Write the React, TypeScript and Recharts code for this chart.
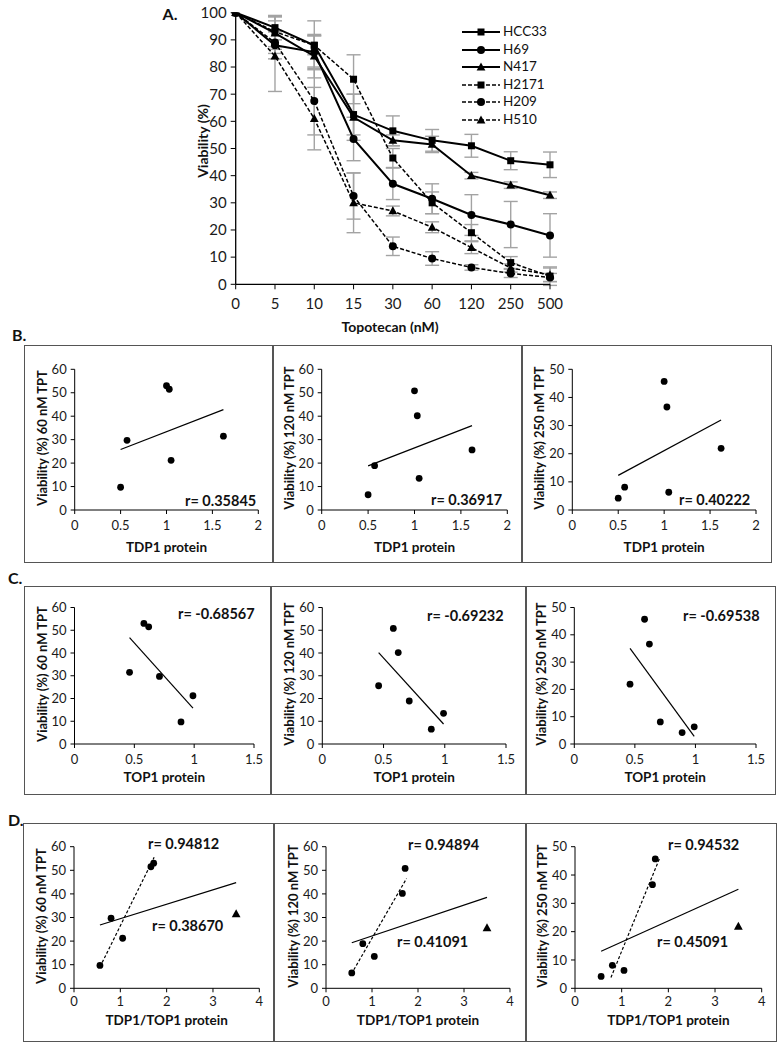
import React from "react";
import {
  LineChart,
  Line,
  XAxis,
  YAxis,
  ErrorBar,
  ScatterChart,
  Scatter,
} from "recharts";

const FONT = "Lato, 'DejaVu Sans', sans-serif";
const INK = "#000";
const FRAME = "#555";

// ---- panel A: viability vs topotecan dose ----
const doses = ["0", "5", "10", "15", "30", "60", "120", "250", "500"];
const hcc33 = [100, 94.5, 88, 62.5, 56.5, 53, 51, 45.5, 44];
const hcc33Err = [0, 4.5, 9, 7.5, 5.5, 4, 4.2, 3.3, 4.7];
const h69 = [100, 88, 85.5, 53.5, 37, 31.5, 25.5, 22, 18];
const h69Err = [0, 5, 6, 8, 5.8, 5.5, 7.5, 8.5, 8];
const n417 = [100, 92.5, 84, 61.5, 53, 51.5, 40, 36.5, 32.8];
const n417Err = [0, 6, 8, 8.5, 2, 3, 1.2, 1.2, 1.2];
const h2171 = [100, 93, 88, 75.5, 46.5, 30, 19, 8, 3];
const h2171Err = [0, 5.5, 3.5, 9, 3.5, 4, 3, 2.2, 3.4];
const h209 = [100, 89, 67.5, 32.5, 14, 9.5, 6.2, 4, 2.5];
const h209Err = [0, 4, 12.5, 8.5, 3.4, 2.5, 1, 1.5, 1.5];
const h510 = [100, 84, 61, 30, 27, 21, 13.5, 6, 3.5];
const h510Err = [0, 13, 11.5, 11, 1.8, 2, 2.2, 1.5, 2.5];

const doseSeries = [
  { key: "hcc33", name: "HCC33", values: hcc33, err: hcc33Err, dashed: false, mark: "square" },
  { key: "h69", name: "H69", values: h69, err: h69Err, dashed: false, mark: "circle" },
  { key: "n417", name: "N417", values: n417, err: n417Err, dashed: false, mark: "triangle" },
  { key: "h2171", name: "H2171", values: h2171, err: h2171Err, dashed: true, mark: "square" },
  { key: "h209", name: "H209", values: h209, err: h209Err, dashed: true, mark: "circle" },
  { key: "h510", name: "H510", values: h510, err: h510Err, dashed: true, mark: "triangle" },
];

const doseTable = doses.map((dose, i) => {
  const row: Record<string, any> = { dose };
  doseSeries.forEach((s) => {
    row[s.key] = s.values[i];
    row[s.key + "Err"] = s.err[i];
  });
  return row;
});

// ---- panels B-D: order HCC33, H69, N417, H2171, H209, H510 ----
const tdp1 = [1.0, 1.62, 1.03, 0.57, 0.5, 1.05];
const top1 = [0.58, 0.46, 0.62, 0.71, 0.89, 0.99];
const tdp1top1 = [1.72, 3.5, 1.66, 0.8, 0.56, 1.05];
const via60 = [53, 31.5, 51.5, 29.7, 9.7, 21.2];
const via120 = [50.8, 25.6, 40.2, 18.9, 6.5, 13.5];
const via250 = [45.7, 21.9, 36.6, 8.1, 4.2, 6.3];

// fitted lines as [x, y] end points
const fitB60 = [[0.5, 25.8], [1.62, 42.8]];
const fitB120 = [[0.5, 18.8], [1.62, 36]];
const fitB250 = [[0.5, 12.3], [1.62, 32]];
const fitC60 = [[0.46, 46.8], [0.99, 15.8]];
const fitC120 = [[0.46, 40.2], [0.99, 8.8]];
const fitC250 = [[0.46, 35], [0.99, 2.8]];
const fitD60 = [[0.56, 26.8], [3.5, 44.8]];
const fitD60Dash = [[0.56, 9], [1.73, 55.5]];
const fitD120 = [[0.56, 19.3], [3.5, 38.5]];
const fitD120Dash = [[0.55, 6], [1.75, 46.5]];
const fitD250 = [[0.56, 13.1], [3.5, 35]];
const fitD250Dash = [[0.77, 3.8], [1.82, 46.2]];

const toPts = (xs: number[], ys: number[]) => xs.map((x, i) => ({ x, y: ys[i] }));
const toFit = (f: number[][]) => f.map(([x, y]) => ({ x, y }));

function Marker({ mark, cx, cy }: { mark: string; cx?: number; cy?: number }) {
  if (cx == null || cy == null) return <g />;
  if (mark === "square")
    return <rect x={cx - 3.5} y={cy - 3.5} width={7} height={7} fill={INK} />;
  if (mark === "triangle")
    return (
      <polygon
        points={`${cx},${cy - 4.6} ${cx + 4.4},${cy + 3.4} ${cx - 4.4},${cy + 3.4}`}
        fill={INK}
      />
    );
  return <circle cx={cx} cy={cy} r={4} fill={INK} />;
}

function Txt({
  x,
  y,
  size = 13,
  bold = false,
  anchor = "middle",
  rotate = false,
  children,
}: {
  x: number;
  y: number;
  size?: number;
  bold?: boolean;
  anchor?: "start" | "middle" | "end";
  rotate?: boolean;
  children: React.ReactNode;
}) {
  const tx = anchor === "middle" ? "-50%" : anchor === "end" ? "-100%" : "0";
  return (
    <div
      style={{
        position: "absolute",
        left: x,
        top: y,
        transform: `translate(${tx},-50%)${rotate ? " rotate(-90deg)" : ""}`,
        fontFamily: FONT,
        fontSize: size,
        fontWeight: bold ? 700 : 400,
        color: "#111",
        whiteSpace: "nowrap",
        lineHeight: 1,
      }}
    >
      {children}
    </div>
  );
}

const tickStyle = (size: number) => ({ fontSize: size, fill: "#1a1a1a", fontFamily: FONT });

function DoseChart() {
  return (
    <div style={{ position: "absolute", left: 0, top: 0 }}>
      <LineChart
        width={782}
        height={340}
        data={doseTable}
        margin={{ top: 12.7, right: 232, bottom: 25.7, left: 195.7 }}
      >
        <XAxis
          dataKey="dose"
          height={30}
          interval={0}
          tickSize={5}
          tickMargin={9}
          tick={tickStyle(15)}
          axisLine={{ stroke: INK, strokeWidth: 1.3 }}
          tickLine={{ stroke: INK }}
        />
        <YAxis
          width={40}
          domain={[0, 100]}
          ticks={[0, 10, 20, 30, 40, 50, 60, 70, 80, 90, 100]}
          allowDataOverflow
          interval={0}
          tickSize={5}
          tickMargin={4}
          tick={tickStyle(15)}
          axisLine={{ stroke: INK, strokeWidth: 1.3 }}
          tickLine={{ stroke: INK }}
        />
        {doseSeries.map((s) => (
          <Line
            key={s.key + "-err"}
            dataKey={s.key}
            stroke="none"
            dot={false}
            activeDot={false}
            legendType="none"
            isAnimationActive={false}
          >
            <ErrorBar dataKey={s.key + "Err"} width={7} stroke="#a3a3a3" strokeWidth={1.4} />
          </Line>
        ))}
        {doseSeries.map((s) => (
          <Line
            key={s.key}
            type="linear"
            dataKey={s.key}
            name={s.name}
            stroke={INK}
            strokeWidth={s.dashed ? 1.5 : 2}
            strokeDasharray={s.dashed ? "4 2" : undefined}
            dot={(p: any) => <Marker key={s.key + p.index} mark={s.mark} cx={p.cx} cy={p.cy} />}
            activeDot={false}
            isAnimationActive={false}
          />
        ))}
      </LineChart>
      <Txt x={170} y={14} size={16} bold>
        A.
      </Txt>
      <Txt x={203} y={141} size={14} bold rotate>
        Viability (%)
      </Txt>
      <Txt x={390} y={327} size={14} bold>
        Topotecan (nM)
      </Txt>
      {doseSeries.map((s, i) => {
        const cy = 32 + i * 17.5;
        return (
          <div key={s.key} style={{ position: "absolute", left: 461, top: cy - 6 }}>
            <svg width={40} height={12} style={{ display: "block" }}>
              <line
                x1={1}
                x2={39}
                y1={6}
                y2={6}
                stroke={INK}
                strokeWidth={s.dashed ? 1.5 : 2}
                strokeDasharray={s.dashed ? "4 2" : undefined}
              />
              <Marker mark={s.mark} cx={20} cy={6} />
            </svg>
            <Txt x={42} y={6} size={13.5} anchor="start">
              {s.name}
            </Txt>
          </div>
        );
      })}
    </div>
  );
}

type PanelDef = {
  box: [number, number, number, number]; // left, top, right, bottom
  plot: [number, number, number, number]; // x0, yTop, x1, yBottom
  xMax: number;
  xTicks: number[];
  yMax: number;
  xs: number[];
  ys: number[];
  tri?: number;
  fit: number[][];
  fitDash?: number[][];
  xTitle: string;
  titleY: number;
  tickGap: number;
  yTitle: string;
  notes: { text: string; x: number; y: number }[];
};

const YW = 30;
const XH = 24;

function Panel({ d }: { d: PanelDef }) {
  const [bl, bt, br, bb] = d.box;
  const [px0, pt, px1, pb] = d.plot;
  const yTicks = Array.from({ length: d.yMax / 10 + 1 }, (_, i) => i * 10);
  const pts = toPts(d.xs, d.ys);
  const circles = pts.filter((_, i) => i !== d.tri);
  const tris = d.tri != null ? [pts[d.tri]] : [];
  return (
    <>
      <div
        style={{
          position: "absolute",
          left: bl,
          top: bt,
          width: br - bl,
          height: bb - bt,
          border: `1.5px solid ${FRAME}`,
          boxSizing: "border-box",
        }}
      />
      <div style={{ position: "absolute", left: bl, top: bt }}>
        <ScatterChart
          width={br - bl}
          height={bb - bt}
          margin={{ left: px0 - bl - YW, right: br - px1, top: pt - bt, bottom: bb - pb - XH }}
        >
          <XAxis
            type="number"
            dataKey="x"
            domain={[0, d.xMax]}
            ticks={d.xTicks}
            allowDataOverflow
            interval={0}
            height={XH}
            tickSize={4}
            tickMargin={d.tickGap}
            tick={tickStyle(13)}
            axisLine={{ stroke: INK }}
            tickLine={{ stroke: INK }}
          />
          <YAxis
            type="number"
            dataKey="y"
            domain={[0, d.yMax]}
            ticks={yTicks}
            allowDataOverflow
            interval={0}
            width={YW}
            tickSize={4}
            tickMargin={4}
            tick={tickStyle(13)}
            axisLine={{ stroke: INK }}
            tickLine={{ stroke: INK }}
          />
          <Scatter
            data={toFit(d.fit)}
            line={{ stroke: INK, strokeWidth: 1.2 }}
            shape={() => <g />}
            isAnimationActive={false}
          />
          {d.fitDash && (
            <Scatter
              data={toFit(d.fitDash)}
              line={{ stroke: INK, strokeWidth: 1.2, strokeDasharray: "3 2" }}
              shape={() => <g />}
              isAnimationActive={false}
            />
          )}
          <Scatter
            data={circles}
            shape={(p: any) => <circle cx={p.cx} cy={p.cy} r={3.4} fill={INK} />}
            isAnimationActive={false}
          />
          {tris.length > 0 && (
            <Scatter
              data={tris}
              shape={(p: any) => <Marker mark="triangle" cx={p.cx} cy={p.cy} />}
              isAnimationActive={false}
            />
          )}
        </ScatterChart>
      </div>
      <Txt x={px0 - 33} y={(pt + pb) / 2 - 2} size={13} bold rotate>
        {d.yTitle}
      </Txt>
      <Txt x={(px0 + px1) / 2} y={d.titleY} size={13.5} bold>
        {d.xTitle}
      </Txt>
      {d.notes.map((n) => (
        <Txt key={n.text} x={n.x} y={n.y} size={14.5} bold anchor="start">
          {n.text}
        </Txt>
      ))}
    </>
  );
}

const tdpTicks = [0, 0.5, 1, 1.5, 2];
const topTicks = [0, 0.5, 1, 1.5];
const ratioTicks = [0, 1, 2, 3, 4];

const panels: PanelDef[] = [
  // row B
  { box: [24, 345, 273, 563], plot: [74.7, 369.3, 258.3, 510], xMax: 2, xTicks: tdpTicks, yMax: 60, xs: tdp1, ys: via60, fit: fitB60, xTitle: "TDP1 protein", titleY: 548, tickGap: 7, yTitle: "Viability (%) 60 nM TPT", notes: [{ text: "r= 0.35845", x: 185, y: 501 }] },
  { box: [273, 345, 522, 563], plot: [321.7, 369.3, 507.3, 510], xMax: 2, xTicks: tdpTicks, yMax: 60, xs: tdp1, ys: via120, fit: fitB120, xTitle: "TDP1 protein", titleY: 548, tickGap: 7, yTitle: "Viability (%) 120 nM TPT", notes: [{ text: "r= 0.36917", x: 431, y: 500 }] },
  { box: [522, 345, 772, 563], plot: [572.3, 369.3, 756, 510], xMax: 2, xTicks: tdpTicks, yMax: 50, xs: tdp1, ys: via250, fit: fitB250, xTitle: "TDP1 protein", titleY: 548, tickGap: 7, yTitle: "Viability (%) 250 nM TPT", notes: [{ text: "r= 0.40222", x: 679, y: 500 }] },
  // row C
  { box: [24, 586, 271, 795], plot: [74.5, 607.5, 254, 744], xMax: 1.5, xTicks: topTicks, yMax: 60, xs: top1, ys: via60, fit: fitC60, xTitle: "TOP1 protein", titleY: 778, tickGap: 7, yTitle: "Viability (%) 60 nM TPT", notes: [{ text: "r= -0.68567", x: 178, y: 614 }] },
  { box: [271, 586, 526, 795], plot: [322.3, 607.5, 506, 744], xMax: 1.5, xTicks: topTicks, yMax: 60, xs: top1, ys: via120, fit: fitC120, xTitle: "TOP1 protein", titleY: 778, tickGap: 7, yTitle: "Viability (%) 120 nM TPT", notes: [{ text: "r= -0.69232", x: 427, y: 616 }] },
  { box: [526, 586, 776, 795], plot: [574.3, 607.5, 756, 744], xMax: 1.5, xTicks: topTicks, yMax: 50, xs: top1, ys: via250, fit: fitC250, xTitle: "TOP1 protein", titleY: 778, tickGap: 7, yTitle: "Viability (%) 250 nM TPT", notes: [{ text: "r= -0.69538", x: 683, y: 616 }] },
  // row D
  { box: [23, 823, 274, 1042], plot: [74, 846.7, 259.3, 988.3], xMax: 4, xTicks: ratioTicks, yMax: 60, xs: tdp1top1, ys: via60, tri: 1, fit: fitD60, fitDash: fitD60Dash, xTitle: "TDP1/TOP1 protein", titleY: 1021, tickGap: 4, yTitle: "Viability (%) 60 nM TPT", notes: [{ text: "r= 0.94812", x: 148, y: 844 }, { text: "r= 0.38670", x: 152, y: 926 }] },
  { box: [274, 823, 526, 1042], plot: [326, 846.7, 510, 988.3], xMax: 4, xTicks: ratioTicks, yMax: 60, xs: tdp1top1, ys: via120, tri: 1, fit: fitD120, fitDash: fitD120Dash, xTitle: "TDP1/TOP1 protein", titleY: 1021, tickGap: 4, yTitle: "Viability (%) 120 nM TPT", notes: [{ text: "r= 0.94894", x: 408, y: 845 }, { text: "r= 0.41091", x: 397, y: 942 }] },
  { box: [526, 823, 777, 1042], plot: [575, 846.7, 761.7, 988.3], xMax: 4, xTicks: ratioTicks, yMax: 50, xs: tdp1top1, ys: via250, tri: 1, fit: fitD250, fitDash: fitD250Dash, xTitle: "TDP1/TOP1 protein", titleY: 1021, tickGap: 4, yTitle: "Viability (%) 250 nM TPT", notes: [{ text: "r= 0.94532", x: 668, y: 845 }, { text: "r= 0.45091", x: 657, y: 942 }] },
];

export default function App() {
  return (
    <div
      style={{
        position: "absolute",
        left: 0,
        top: 0,
        width: 782,
        height: 1048,
        background: "#fff",
        fontFamily: FONT,
      }}
    >
      <DoseChart />
      <Txt x={12} y={335} size={16} bold anchor="start">
        B.
      </Txt>
      <Txt x={8} y={578} size={16} bold anchor="start">
        C.
      </Txt>
      <Txt x={8} y={820} size={16} bold anchor="start">
        D.
      </Txt>
      {panels.map((d, i) => (
        <Panel key={i} d={d} />
      ))}
    </div>
  );
}
